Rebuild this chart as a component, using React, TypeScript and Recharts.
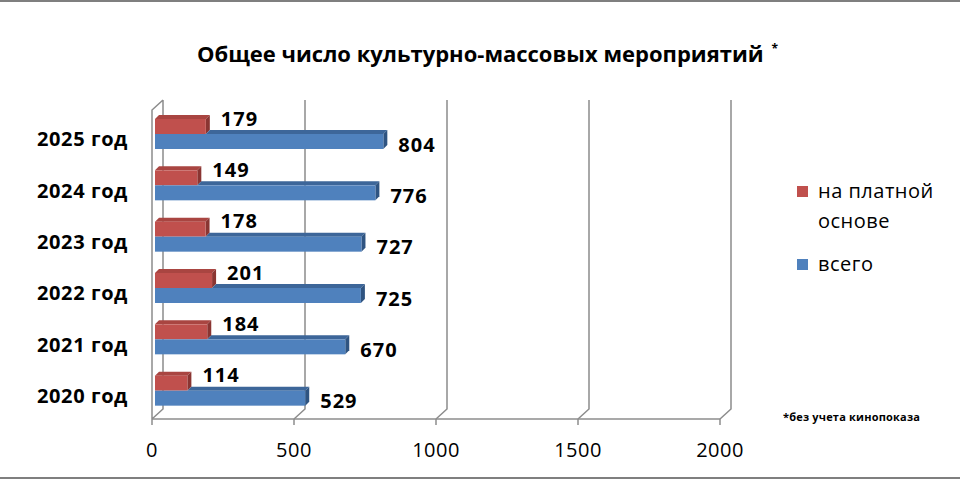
import React from 'react';
import { BarChart, Bar, XAxis, YAxis, CartesianGrid, Legend, LabelList } from 'recharts';

const years = ['2020 год', '2021 год', '2022 год', '2023 год', '2024 год', '2025 год'];
const paidValues = [114, 184, 201, 178, 149, 179];
const totalValues = [529, 670, 725, 727, 776, 804];
const xTicks = [0, 500, 1000, 1500, 2000];
const seriesOrder = ['на платной основе', 'всего'];

const data = years.map((year, i) => ({ year, paid: paidValues[i], total: totalValues[i] }));

const FONT = '"Open Sans", sans-serif';
const SHIFT = 3;
const D = 4;
const GRID = '#8C8C8C';

const PaidShape = (props: any) => {
  const { x, y, width, height } = props;
  const x0 = x + SHIFT;
  const xe = x0 + width;
  return (
    <g>
      <polygon points={`${x0},${y} ${xe},${y} ${xe + D},${y - D} ${x0 + D},${y - D}`} fill="#A94541" />
      <polygon points={`${xe},${y} ${xe + D},${y - D} ${xe + D},${y + height - D} ${xe},${y + height}`} fill="#8A3532" />
      <rect x={x0} y={y} width={width} height={height} fill="#C0504D" />
    </g>
  );
};

const TotalShape = (props: any) => {
  const { x, y, width, height, payload } = props;
  const x0 = x + SHIFT;
  const xe = x0 + width;
  const redEnd = x0 + (width * payload.paid) / payload.total;
  return (
    <g>
      <polygon points={`${redEnd},${y} ${xe},${y} ${xe + D},${y - D} ${redEnd + D},${y - D}`} fill="#3D6699" />
      <polygon points={`${xe},${y} ${xe + D},${y - D} ${xe + D},${y + height - D} ${xe},${y + height}`} fill="#2F5481" />
      <rect x={x0} y={y} width={width} height={height} fill="#4F81BD" />
    </g>
  );
};

const makeLabel = (dyCenter: number) => (props: any) => {
  const { x, y, width, height, value } = props;
  const tx = x + SHIFT + width + 15;
  const cy = y + height / 2 + dyCenter;
  return (
    <text x={tx} y={cy + 7} textAnchor="start" fontFamily={FONT} fontWeight={700} fontSize={20} letterSpacing={1} fill="#000">
      {value}
    </text>
  );
};

const gridLine = (p: any) => {
  const { x1, y1, y2 } = p;
  const top = Math.min(y1, y2);
  const bot = Math.max(y1, y2);
  const bx = x1 + 11;
  const by = bot - 10;
  let d = `M${x1},${bot} L${bx},${by} L${bx},${top}`;
  if (x1 < 160) d += ` M${x1},${bot} L${x1},${top + 10} L${bx},${top}`;
  return <path key={p.key ?? `g-${x1}`} d={d} stroke={GRID} strokeWidth={1.5} fill="none" />;
};

const XTick = (props: any) => {
  const { x, y, payload } = props;
  return (
    <text x={x} y={y + 30} textAnchor="middle" fontFamily={FONT} fontSize={20} letterSpacing={0.5} fill="#000">
      {payload.value}
    </text>
  );
};

const YTick = (props: any) => {
  const { x, y, payload } = props;
  return (
    <text x={x} y={y + 12.5} textAnchor="end" fontFamily={FONT} fontWeight={700} fontSize={20} letterSpacing={0.6} fill="#000">
      {payload.value}
    </text>
  );
};

const renderLegend = (props: any) => {
  const payload = [...(props.payload || [])].sort(
    (a: any, b: any) => seriesOrder.indexOf(a.value) - seriesOrder.indexOf(b.value)
  );
  return (
    <div style={{ fontFamily: FONT, fontSize: 20, letterSpacing: 0.5, color: '#000' }}>
      {payload.map((e: any, i: number) => (
        <div key={e.value} style={{ display: 'flex', alignItems: 'flex-start', marginTop: i === 0 ? 0 : 13 }}>
          <span style={{ display: 'inline-block', width: 11, height: 11, background: e.color, marginTop: 10, flex: 'none' }} />
          <span style={{ display: 'inline-block', width: 135, marginLeft: 10, lineHeight: '30px' }}>{e.value}</span>
        </div>
      ))}
    </div>
  );
};

export default function App() {
  return (
    <div style={{ position: 'absolute', left: 0, top: 0, width: 960, height: 480, background: '#fff', overflow: 'hidden' }}>
      <div style={{ position: 'absolute', left: 0, top: 0, width: 960, height: 2, background: '#7F7F7F' }} />
      <div style={{ position: 'absolute', left: 0, top: 477, width: 960, height: 2, background: '#7F7F7F' }} />
      <div
        style={{
          position: 'absolute',
          left: 197,
          top: 42,
          fontFamily: FONT,
          fontWeight: 700,
          fontSize: 22,
          lineHeight: '22px',
          whiteSpace: 'nowrap',
          color: '#000',
        }}
      >
        Общее число культурно-массовых мероприятий
        <span style={{ fontSize: 12, verticalAlign: 'top', marginLeft: 8, position: 'relative', top: -4 }}>*</span>
      </div>
      <div
        style={{
          position: 'absolute',
          left: 783,
          top: 409,
          fontFamily: FONT,
          fontWeight: 700,
          fontSize: 11,
          letterSpacing: 0.2,
          whiteSpace: 'nowrap',
          color: '#000',
        }}
      >
        *без учета кинопоказа
      </div>
      <BarChart
        width={960}
        height={480}
        data={data}
        layout="vertical"
        margin={{ top: 100, right: 240, bottom: 21, left: 12 }}
        barGap={0}
        barSize={15}
        style={{ position: 'absolute', left: 0, top: 0 }}
      >
        <CartesianGrid horizontal={false} vertical={gridLine} />
        <XAxis
          type="number"
          domain={[0, 2000]}
          ticks={xTicks}
          interval={0}
          height={40}
          axisLine={{ stroke: GRID, strokeWidth: 1.5 }}
          tickLine={{ stroke: GRID, strokeWidth: 1.5 }}
          tickSize={6}
          tick={<XTick />}
        />
        <YAxis
          type="category"
          dataKey="year"
          reversed
          width={140}
          padding={{ top: 8, bottom: 3 }}
          axisLine={false}
          tickLine={false}
          tickSize={0}
          tickMargin={24}
          interval={0}
          tick={<YTick />}
        />
        <Legend
          layout="horizontal"
          verticalAlign="middle"
          align="center"
          content={renderLegend}
          wrapperStyle={{ position: 'absolute', left: 797, top: 176, width: 170, height: 120 }}
        />
        <Bar dataKey="paid" name={seriesOrder[0]} fill="#C0504D" shape={<PaidShape />} isAnimationActive={false}>
          <LabelList dataKey="paid" content={makeLabel(-8)} />
        </Bar>
        <Bar dataKey="total" name={seriesOrder[1]} fill="#4F81BD" shape={<TotalShape />} isAnimationActive={false}>
          <LabelList dataKey="total" content={makeLabel(3)} />
        </Bar>
      </BarChart>
    </div>
  );
}
